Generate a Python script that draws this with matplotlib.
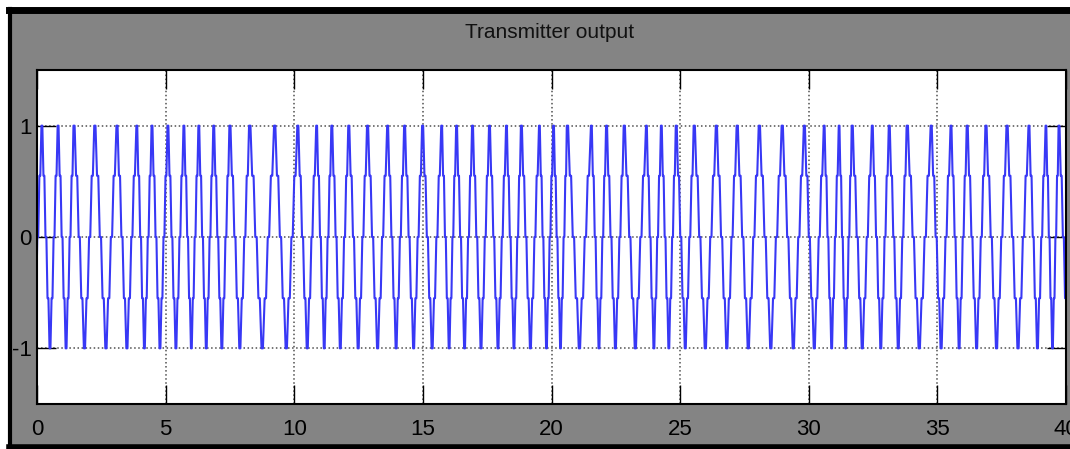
import numpy as np
import matplotlib.pyplot as plt
from matplotlib.patches import Rectangle
from matplotlib.lines import Line2D

# peak times of the carrier (x units)
peak_times = [-0.45, 0.19, 0.82, 1.44, 2.25, 3.11, 3.88, 4.47, 5.09, 5.71, 6.29, 6.87,
              7.50, 8.27, 9.24, 10.14, 10.87, 11.46, 12.12, 12.85, 13.63, 14.29,
              14.99, 15.73, 16.31, 16.93, 17.59, 18.25, 18.83, 19.53, 20.08, 20.62,
              21.55, 22.14, 22.83, 23.69, 24.27, 24.85, 25.55, 26.41, 27.22, 28.08,
              28.97, 29.83, 30.60, 31.18, 31.69, 32.47, 33.13, 33.83, 34.76, 35.53,
              36.16, 36.89, 37.71, 38.56, 39.22, 39.73, 40.40]
# sample levels inside one cycle, starting at the peak
cycle_levels = [1.0, 0.55, 0.0, -0.55, -1.0, -0.55, 0.0, 0.55]

x_ticks = [0, 5, 10, 15, 20, 25, 30, 35, 40]
x_labels = ['0', '5', '10', '15', '20', '25', '30', '35', '40']
y_ticks = [-1, 0, 1]
y_labels = ['-1', '0', '1']

# each sample is held for part of its slot, then ramps to the next one
hold = 0.45
t, v = [], []
for a, b in zip(peak_times[:-1], peak_times[1:]):
    n = len(cycle_levels)
    slot = (b - a) / n
    for j, lev in enumerate(cycle_levels):
        start = a + slot * (j - 0.5 * hold)
        t += [start, start + slot * hold]
        v += [lev, lev]
t.append(peak_times[-1])
v.append(cycle_levels[0])

W, H = 1070, 449
fig = plt.figure(figsize=(W / 100, H / 100), dpi=100, facecolor='white')

# grey figure panel with black frame
fig.add_artist(Rectangle((9 / W, 0), 1 - 9 / W, 1 - 9 / H, transform=fig.transFigure,
                         facecolor='#848484', edgecolor='none', zorder=0))
fig.add_artist(Line2D([9 / W, 1], [1 - 10 / H, 1 - 10 / H], transform=fig.transFigure,
                      color='black', lw=5, zorder=1))
fig.add_artist(Line2D([10 / W, 10 / W], [0, 1 - 9 / H], transform=fig.transFigure,
                      color='black', lw=3, zorder=1))
fig.add_artist(Line2D([9 / W, 1], [2 / H, 2 / H], transform=fig.transFigure,
                      color='black', lw=4, zorder=1))

ax = fig.add_axes([37 / W, 45 / H, 1029 / W, 334 / H])
ax.set_facecolor('white')
ax.plot(t, v, color='#3838f5', lw=1.5)

ax.set_xlim(0, 40)
ax.set_ylim(-1.5, 1.5)
ax.set_xticks(x_ticks)
ax.set_xticklabels(x_labels)
ax.set_yticks(y_ticks)
ax.set_yticklabels(y_labels)
ax.grid(True, linestyle=':', color='#505050', lw=1.1)

fnt = ['Liberation Sans', 'DejaVu Sans']
ax.tick_params(direction='in', length=14, width=1, top=True, right=True,
               labelsize=16, colors='black')
ax.tick_params(axis='x', pad=11)
ax.tick_params(axis='y', pad=4)
for lab in ax.get_xticklabels() + ax.get_yticklabels():
    lab.set_family(fnt)
for s in ax.spines.values():
    s.set_linewidth(1.5)

fig.text(550 / W, 1 - 32 / H, 'Transmitter output', fontsize=15, family=fnt,
         ha='center', va='center', color='#111111')

fig.savefig('out.png', dpi=100, facecolor=fig.get_facecolor())
